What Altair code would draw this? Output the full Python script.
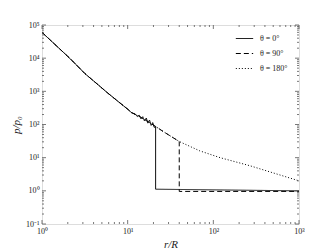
import altair as alt
import pandas as pd

# shared part of the profile (all three angles)
r_common = [1, 2.12, 3.18, 4.54, 5.7, 7.77, 10.0, 11.1]
p_common = [6.0e4, 9.8e3, 3400, 1560, 940, 490, 290, 228]

# theta = 0 deg (noisy, then shock drop)
r_t0 = [12.3, 13.0, 13.6, 14.3, 15.0, 15.7, 16.5, 17.2, 18.0, 18.8, 19.6, 20.4, 21.2, 21.2, 1000]
p_t0 = [205, 172, 192, 148, 172, 128, 156, 110, 136, 94, 114, 82, 84, 1.12, 1.0]

# theta = 90 deg
r_t90 = [13.9, 18.2, 21.2, 27.2, 40, 40, 1000]
p_t90 = [172, 112, 87, 57, 30.7, 0.96, 0.96]

# theta = 180 deg
r_t180 = [13.9, 18.2, 21.2, 27.2, 40, 69.6, 120, 268, 1000]
p_t180 = [172, 112, 87, 57, 30.7, 16, 10, 5.7, 2.0]

series = ["θ = 0°", "θ = 90°", "θ = 180°"]

x_major = [1, 10, 100, 1000]
x_minor = [k * 10 ** e for e in range(0, 3) for k in range(2, 10)]
y_major = [0.1, 1, 10, 100, 1000, 1e4, 1e5]
y_minor = [k * 10.0 ** e for e in range(-1, 5) for k in range(2, 10)]

rows = []
for name, rs, ps in zip(series, [r_t0, r_t90, r_t180], [p_t0, p_t90, p_t180]):
    allr = r_common + rs
    allp = p_common + ps
    for i, (r, p) in enumerate(zip(allr, allp)):
        rows.append({"series": name, "r": r, "p": p, "i": i})
df = pd.DataFrame(rows)

W, H = 257, 199
FONT = "Liberation Serif"
GREY = "#555555"
TXT = "#222222"

xs = alt.Scale(type="log", domain=[1, 1000], nice=False)
ys = alt.Scale(type="log", domain=[0.1, 1e5], nice=False)

sup = "['⁻¹','⁰','¹','²','³','⁴','⁵'][round(log(datum.value)/LN10)+1]"

lines = alt.Chart(df).mark_line(color="black", strokeWidth=1, clip=True).encode(
    x=alt.X("r:Q", scale=xs, axis=alt.Axis(
        values=x_major, labelExpr="'10' + " + sup, ticks=False, grid=False, domain=False,
        title="r/R", titleFont=FONT, titleFontStyle="italic", titleFontWeight="normal",
        titleFontSize=11, titlePadding=3, titleColor=TXT,
        labelFont=FONT, labelFontSize=8, labelColor=TXT, labelPadding=3,
        labelFlush=False)),
    y=alt.Y("p:Q", scale=ys, axis=alt.Axis(
        values=y_major, labelExpr="'10' + " + sup, ticks=False, grid=False, domain=False,
        title="p/p₀", titleFont=FONT, titleFontStyle="italic", titleFontWeight="normal",
        titleFontSize=11, titlePadding=4, titleColor=TXT,
        labelFont=FONT, labelFontSize=8, labelColor=TXT, labelPadding=3,
        labelFlush=False)),
    strokeDash=alt.StrokeDash("series:N", scale=alt.Scale(
        domain=series, range=[[1, 0], [5, 3], [1, 2]]),
        legend=alt.Legend(title=None, orient="none", legendX=193, legendY=4,
                          symbolType="stroke", symbolSize=300, symbolStrokeWidth=1,
                          symbolStrokeColor="black",
                          labelFont=FONT, labelFontSize=8, labelColor=TXT,
                          rowPadding=1, labelOffset=6)),
    order="i:Q",
)

def xticks(vals, length):
    d = pd.DataFrame({"v": vals})
    base = alt.Chart(d).mark_rule(color=GREY, strokeWidth=0.8)
    bot = base.encode(x=alt.X("v:Q", scale=xs), y=alt.value(H), y2=alt.value(H - length))
    top = base.encode(x=alt.X("v:Q", scale=xs), y=alt.value(0), y2=alt.value(length))
    return [bot, top]

def yticks(vals, length):
    d = pd.DataFrame({"v": vals})
    base = alt.Chart(d).mark_rule(color=GREY, strokeWidth=0.8)
    left = base.encode(y=alt.Y("v:Q", scale=ys), x=alt.value(0), x2=alt.value(length))
    right = base.encode(y=alt.Y("v:Q", scale=ys), x=alt.value(W), x2=alt.value(W - length))
    return [left, right]

layers = [lines] + xticks(x_major, 4) + xticks(x_minor, 2) + yticks(y_major, 4) + yticks(y_minor, 2)

chart = alt.layer(*layers).properties(
    width=W, height=H,
    autosize=alt.AutoSizeParams(type="none"),
    padding={"left": 34, "top": 17, "right": 23, "bottom": 24},
).configure_view(stroke=GREY, strokeWidth=1).configure(background="white")

chart.save("out.html", embed_options={"renderer": "svg", "actions": False})
